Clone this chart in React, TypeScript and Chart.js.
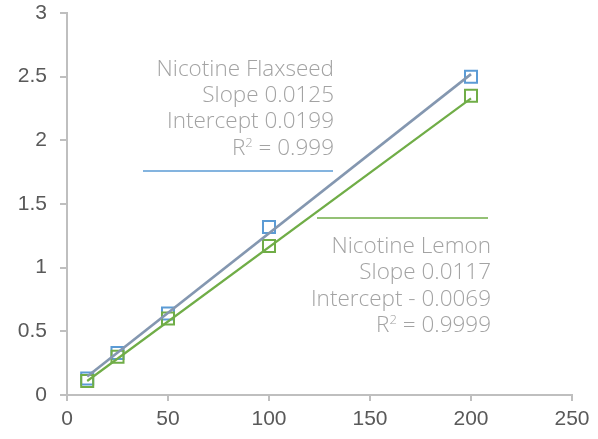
import React, { useEffect, useRef } from "react";
import { Chart, registerables } from "chart.js";

Chart.register(...registerables);

const concentrations = [10, 25, 50, 100, 200];
const flaxseedValues = [0.13, 0.33, 0.64, 1.32, 2.5];
const lemonValues = [0.11, 0.3, 0.6, 1.17, 2.35];

const flaxTrendX = [10, 200];
const flaxTrendY = [0.145, 2.52];
const lemonTrendX = [10, 200];
const lemonTrendY = [0.11, 2.33];

const xTicks = [0, 50, 100, 150, 200, 250];
const yTicks = [0, 0.5, 1, 1.5, 2, 2.5, 3];

const flaxLabel = ["Nicotine Flaxseed", "Slope 0.0125", "Intercept 0.0199"];
const flaxR2 = "0.999";
const lemonLabel = ["Nicotine Lemon", "Slope 0.0117", "Intercept - 0.0069"];
const lemonR2 = "0.9999";

const BLUE = "#5b9bd5";
const GREEN = "#70ad47";
const TREND_BLUE = "#8497b0";
const TEXT_GRAY = "#a3a3a3";
const AXIS_GRAY = "#bfbfbf";
const TICK_GRAY = "#595959";

const ANN_FONT = "300 22.5px 'Open Sans', 'DejaVu Sans', sans-serif";
const SUP_FONT = "300 13px 'Open Sans', 'DejaVu Sans', sans-serif";

function drawBlock(ctx: CanvasRenderingContext2D, lines: string[], r2: string, right: number, firstBase: number, step: number) {
  ctx.font = ANN_FONT;
  ctx.fillStyle = TEXT_GRAY;
  ctx.textAlign = "right";
  ctx.textBaseline = "alphabetic";
  lines.forEach((t, i) => ctx.fillText(t, right, firstBase + i * step));
  const y = firstBase + lines.length * step;
  const tail = " = " + r2;
  ctx.font = ANN_FONT;
  const wTail = ctx.measureText(tail).width;
  const wR = ctx.measureText("R").width;
  ctx.font = SUP_FONT;
  const wSup = ctx.measureText("2").width;
  let x = right - wTail - wSup - wR;
  ctx.textAlign = "left";
  ctx.font = ANN_FONT;
  ctx.fillText("R", x, y);
  x += wR;
  ctx.font = SUP_FONT;
  ctx.fillText("2", x, y - 8);
  x += wSup;
  ctx.font = ANN_FONT;
  ctx.fillText(tail, x, y);
}

function hLine(ctx: CanvasRenderingContext2D, color: string, x1: number, x2: number, y: number) {
  ctx.save();
  ctx.setLineDash([]);
  ctx.strokeStyle = color;
  ctx.lineWidth = 1.5;
  ctx.beginPath();
  ctx.moveTo(x1, y);
  ctx.lineTo(x2, y);
  ctx.stroke();
  ctx.restore();
}

const annotationPlugin = {
  id: "annotations",
  afterDraw(chart: any) {
    const ctx = chart.ctx as CanvasRenderingContext2D;
    ctx.save();
    drawBlock(ctx, flaxLabel, flaxR2, 334, 75.7, 26.3);
    hLine(ctx, BLUE, 143, 333, 171);
    hLine(ctx, GREEN, 317, 488, 218);
    drawBlock(ctx, lemonLabel, lemonR2, 491, 253, 26.3);
    ctx.restore();
  },
};

export default function App() {
  const ref = useRef<HTMLCanvasElement | null>(null);
  useEffect(() => {
    if (!ref.current) return;
    const chart = new Chart(ref.current, {
      type: "scatter",
      data: {
        datasets: [
          {
            label: "Flaxseed trend",
            data: flaxTrendX.map((x, i) => ({ x, y: flaxTrendY[i] })),
            showLine: true,
            borderColor: TREND_BLUE,
            borderWidth: 2.6,
            pointRadius: 0,
            order: 1,
          },
          {
            label: "Lemon trend",
            data: lemonTrendX.map((x, i) => ({ x, y: lemonTrendY[i] })),
            showLine: true,
            borderColor: GREEN,
            borderWidth: 2.2,
            pointRadius: 0,
            order: 0,
          },
          {
            label: "Nicotine Flaxseed",
            data: concentrations.map((x, i) => ({ x, y: flaxseedValues[i] })),
            pointStyle: "rect",
            pointRadius: 8.5,
            pointBorderWidth: 2,
            pointBorderColor: BLUE,
            pointBackgroundColor: "rgba(0,0,0,0)",
            borderColor: BLUE,
            backgroundColor: "rgba(0,0,0,0)",
            order: 3,
          },
          {
            label: "Nicotine Lemon",
            data: concentrations.map((x, i) => ({ x, y: lemonValues[i] })),
            pointStyle: "rect",
            pointRadius: 8.5,
            pointBorderWidth: 2,
            pointBorderColor: GREEN,
            pointBackgroundColor: "rgba(0,0,0,0)",
            borderColor: GREEN,
            backgroundColor: "rgba(0,0,0,0)",
            order: 2,
          },
        ],
      },
      options: {
        animation: false,
        responsive: false,
        maintainAspectRatio: false,
        layout: { padding: { left: 0, top: 0, right: 26, bottom: 0 } },
        plugins: { legend: { display: false }, tooltip: { enabled: false } },
        scales: {
          x: {
            type: "linear",
            min: 0,
            max: 250,
            afterBuildTicks: (s: any) => {
              s.ticks = xTicks.map((v) => ({ value: v }));
            },
            afterFit: (s: any) => {
              s.height = 44;
            },
            grid: { drawOnChartArea: false, drawTicks: true, tickLength: 6, color: AXIS_GRAY, lineWidth: 2 },
            border: { color: AXIS_GRAY, width: 2 },
            ticks: {
              color: TICK_GRAY,
              font: { family: "'Liberation Sans', Arial, sans-serif", size: 21 },
              padding: 6,
              maxRotation: 0,
              callback: (v: any) => String(v),
            },
          },
          y: {
            type: "linear",
            min: 0,
            max: 3,
            afterBuildTicks: (s: any) => {
              s.ticks = yTicks.map((v) => ({ value: v }));
            },
            afterFit: (s: any) => {
              s.width = 67;
              s.paddingTop = 13;
              s.paddingBottom = 0;
            },
            grid: { drawOnChartArea: false, drawTicks: true, tickLength: 7, color: AXIS_GRAY, lineWidth: 2 },
            border: { color: AXIS_GRAY, width: 2 },
            ticks: {
              color: TICK_GRAY,
              font: { family: "'Liberation Sans', Arial, sans-serif", size: 21 },
              padding: 13,
              callback: (v: any) => String(v),
            },
          },
        },
      },
      plugins: [annotationPlugin],
    });
    return () => chart.destroy();
  }, []);
  return (
    <div style={{ position: "fixed", left: 0, top: 0, width: 598, height: 439, background: "#fff" }}>
      <canvas ref={ref} width={598} height={439} style={{ width: 598, height: 439 }} />
    </div>
  );
}
